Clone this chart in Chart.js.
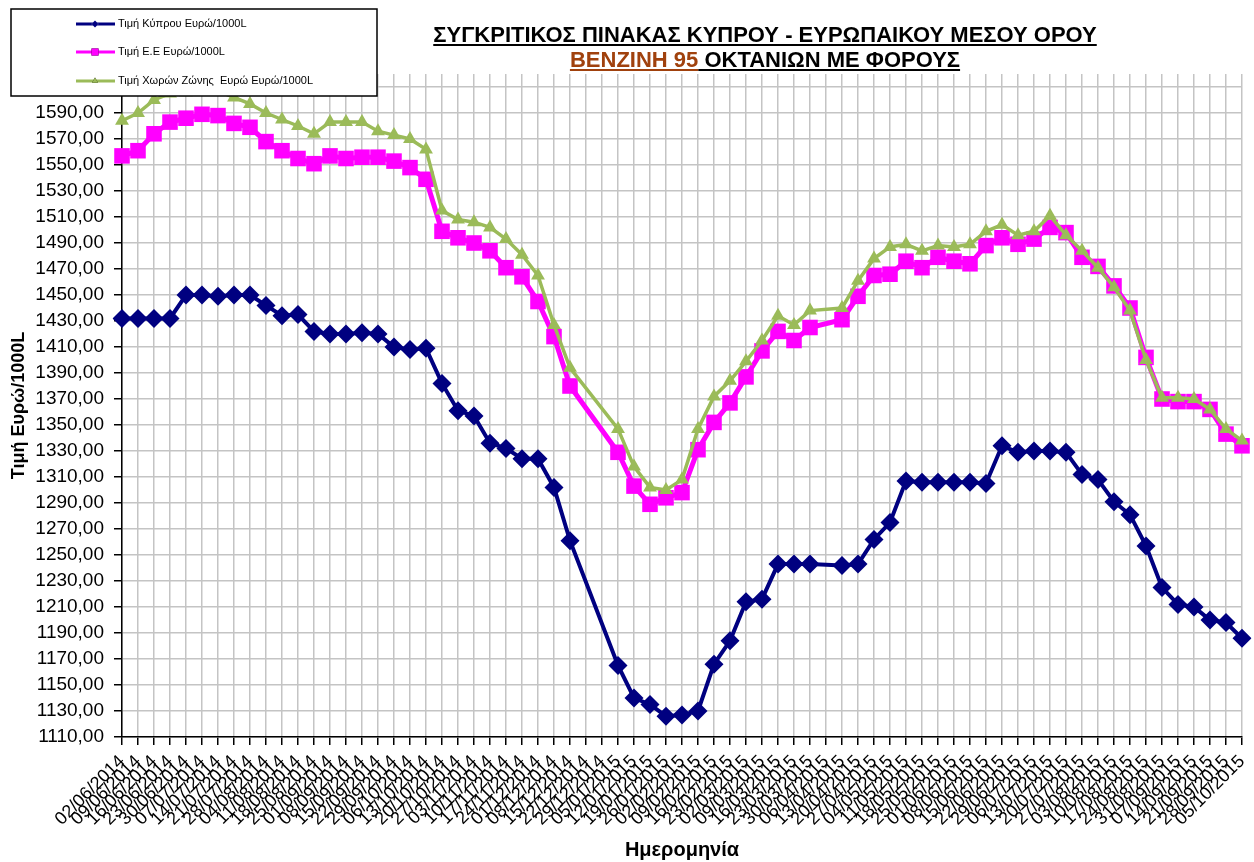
<!DOCTYPE html>
<html>
<head>
<meta charset="utf-8">
<script src="https://cdn.jsdelivr.net/npm/chart.js@4.4.1/dist/chart.umd.min.js"></script>
<style>
  body { margin: 0; background: #fff; }
  #wrap { width: 1254px; height: 862px; }
</style>
</head>
<body>
<div id="wrap"><canvas id="fuelChart" width="1254" height="862"></canvas></div>
<script>
const dates = [
  "02/06/2014", "09/06/2014", "16/06/2014", "23/06/2014", "30/06/2014", "07/07/2014", "14/07/2014", "21/07/2014",
  "28/07/2014", "04/08/2014", "11/08/2014", "18/08/2014", "25/08/2014", "01/09/2014", "08/09/2014", "15/09/2014",
  "22/09/2014", "29/09/2014", "06/10/2014", "13/10/2014", "20/10/2014", "27/10/2014", "03/11/2014", "10/11/2014",
  "17/11/2014", "24/11/2014", "01/12/2014", "08/12/2014", "15/12/2014", "22/12/2014", "29/12/2014", "05/01/2015",
  "12/01/2015", "19/01/2015", "26/01/2015", "02/02/2015", "09/02/2015", "16/02/2015", "23/02/2015", "02/03/2015",
  "09/03/2015", "16/03/2015", "23/03/2015", "30/03/2015", "06/04/2015", "13/04/2015", "20/04/2015", "27/04/2015",
  "04/05/2015", "11/05/2015", "18/05/2015", "25/05/2015", "01/06/2015", "08/06/2015", "15/06/2015", "22/06/2015",
  "29/06/2015", "06/07/2015", "13/07/2015", "20/07/2015", "27/07/2015", "03/08/2015", "10/08/2015", "17/08/2015",
  "24/08/2015", "31/08/2015", "07/09/2015", "14/09/2015", "21/09/2015", "28/09/2015", "05/10/2015"
];

// y axis tick values
const yTicks = [
  1110, 1130, 1150, 1170, 1190, 1210, 1230, 1250, 1270, 1290, 1310, 1330, 1350,
  1370, 1390, 1410, 1430, 1450, 1470, 1490, 1510, 1530, 1550, 1570, 1590, 1610
];

// Τιμή Κύπρου
const cyprus = [
  1432, 1432, 1432, 1432, 1450, 1450, 1449, 1450, 1450, 1442,
  1434, 1435, 1422, 1420, 1420, 1421, 1420, 1410, 1408, 1409,
  1382, 1361, 1357, 1336, 1332, 1324, 1324, 1302, 1261, null,
  null, 1165, 1140, 1135, 1126, 1127, 1130, 1166, 1184, 1214,
  1216, 1243, 1243, 1243, null, 1242, 1243, 1262, 1275, 1307,
  1306, 1306, 1306, 1306, 1305, 1334, 1329, 1330, 1330, 1329,
  1312, 1308, 1291, 1281, 1257, 1225, 1212, 1210, 1200, 1198,
  1186
];

// Τιμή Ε.Ε
const eu = [
  1557, 1561, 1574, 1583, 1586, 1589, 1588, 1582, 1579, 1568,
  1561, 1555, 1551, 1557, 1555, 1556, 1556, 1553, 1548, 1539,
  1499, 1494, 1490, 1484, 1471, 1464, 1445, 1418, 1380, null,
  null, 1329, 1303, 1289, 1294, 1298, 1331, 1352, 1367, 1387,
  1407, 1422, 1415, 1425, null, 1431, 1449, 1465, 1466, 1476,
  1471, 1479, 1476, 1474, 1488, 1494, 1489, 1493, 1502, 1498,
  1479, 1472, 1457, 1440, 1402, 1370, 1368, 1368, 1362, 1343,
  1334
];

// Τιμή Χωρών Ζώνης
const euroZone = [
  1584, 1590, 1600, 1605, 1606, 1608, 1607, 1602, 1597, 1590,
  1585, 1580, 1574, 1583, 1583, 1583, 1576, 1573, 1570, 1562,
  1515, 1508, 1506, 1502, 1493, 1481, 1465, 1427, 1394, null,
  null, 1347, 1318, 1302, 1300, 1308, 1347, 1372, 1384, 1399,
  1415, 1434, 1427, 1438, null, 1440, 1461, 1478, 1487, 1489,
  1484, 1488, 1487, 1489, 1499, 1504, 1496, 1499, 1511, 1496,
  1484, 1471, 1456, 1438, 1400, 1371, 1371, 1370, 1362, 1347,
  1338
];

const seriesNames = ["Τιμή Κύπρου Ευρώ/1000L", "Τιμή Ε.Ε Ευρώ/1000L", "Τιμή Χωρών Ζώνης  Ευρώ Ευρώ/1000L"];

const titleParts = [
  [["ΣΥΓΚΡΙΤΙΚΟΣ ΠΙΝΑΚΑΣ ΚΥΠΡΟΥ - ΕΥΡΩΠΑΙΚΟΥ ΜΕΣΟΥ ΟΡΟΥ", "#000000"]],
  [["ΒΕΝΖΙΝΗ 95", "#a0410d"], [" ΟΚΤΑΝΙΩΝ ΜΕ ΦΟΡΟΥΣ", "#000000"]]
];

const FONT = '"Liberation Sans", Arial, sans-serif';

// title + excel style legend box
const decorations = {
  id: "decorations",
  afterDraw(chart) {
    const ctx = chart.ctx;
    ctx.save();

    // title
    ctx.font = 'bold 22px ' + FONT;
    ctx.textBaseline = "alphabetic";
    ctx.textAlign = "left";
    const baselines = [42, 67];
    titleParts.forEach((line, li) => {
      const total = line.reduce((s, p) => s + ctx.measureText(p[0]).width, 0);
      let x = 765 - total / 2;
      line.forEach(p => {
        const w = ctx.measureText(p[0]).width;
        ctx.fillStyle = p[1];
        ctx.fillText(p[0], x, baselines[li]);
        ctx.fillRect(x, baselines[li] + 2, w, 2);
        x += w;
      });
    });

    // legend
    ctx.fillStyle = "#ffffff";
    ctx.fillRect(11, 9, 366, 87);
    ctx.strokeStyle = "#000000";
    ctx.lineWidth = 1.5;
    ctx.strokeRect(11, 9, 366, 87);
    const rows = [24, 52, 81];
    chart.data.datasets.forEach((ds, i) => {
      const y = rows[i];
      ctx.strokeStyle = ds.borderColor;
      ctx.lineWidth = 3;
      ctx.beginPath();
      ctx.moveTo(76, y);
      ctx.lineTo(115, y);
      ctx.stroke();
      Chart.helpers.drawPoint(ctx, {
        pointStyle: ds.pointStyle, radius: i === 1 ? 5 : 3.5, rotation: 0,
        borderWidth: 0
      }, 95, y);
      ctx.fillStyle = ds.pointBackgroundColor;
      ctx.fill();
      ctx.fillStyle = "#000000";
      ctx.font = "11px " + FONT;
      ctx.textBaseline = "middle";
      ctx.fillText(seriesNames[i], 118, y);
    });
    ctx.restore();
  }
};

new Chart(document.getElementById("fuelChart"), {
  type: "line",
  data: {
    labels: dates,
    datasets: [
      {
        label: seriesNames[0],
        data: cyprus,
        borderColor: "#000080",
        backgroundColor: "#000080",
        pointBackgroundColor: "#000080",
        pointBorderWidth: 0,
        borderWidth: 4,
        pointStyle: "rectRot",
        pointRadius: 9.5,
        spanGaps: true,
        order: 2
      },
      {
        label: seriesNames[1],
        data: eu,
        borderColor: "#ff00ff",
        backgroundColor: "#ff00ff",
        pointBackgroundColor: "#ff00ff",
        pointBorderWidth: 0,
        borderWidth: 5,
        pointStyle: "rect",
        pointRadius: 11,
        spanGaps: true,
        order: 1
      },
      {
        label: seriesNames[2],
        data: euroZone,
        borderColor: "#9bbb59",
        backgroundColor: "#9bbb59",
        pointBackgroundColor: "#9bbb59",
        pointBorderWidth: 0,
        borderWidth: 3.5,
        pointStyle: "triangle",
        pointRadius: 8,
        spanGaps: true,
        order: 0
      }
    ]
  },
  options: {
    responsive: false,
    animation: false,
    events: [],
    layout: { padding: { top: 74, right: 12, left: 8, bottom: 0 } },
    plugins: {
      legend: { display: false },
      tooltip: { enabled: false }
    },
    scales: {
      x: {
        offset: false,
        grid: { color: "#c4c4c4", lineWidth: 1.5, tickColor: "#000000", tickLength: 8 },
        border: { color: "#000000", width: 1.5 },
        ticks: {
          autoSkip: false,
          minRotation: 45,
          maxRotation: 45,
          color: "#000000",
          padding: 6,
          font: { family: FONT, size: 18 }
        },
        title: {
          display: true,
          text: "Ημερομηνία",
          color: "#000000",
          font: { family: FONT, size: 20, weight: "bold" },
          padding: { top: 0, bottom: 0 }
        },
        afterFit(scale) {
          scale.height = 125;
          scale.paddingRight = 0;
        }
      },
      y: {
        min: 1110,
        max: 1620,
        grid: { color: "#c4c4c4", lineWidth: 1.5, tickColor: "#000000", tickLength: 8 },
        border: { color: "#000000", width: 1.5 },
        ticks: {
          autoSkip: false,
          color: "#000000",
          padding: 10,
          font: { family: FONT, size: 19 },
          callback: v => v.toFixed(2).replace(".", ",")
        },
        afterBuildTicks(scale) {
          scale.ticks = yTicks.map(v => ({ value: v }));
        },
        title: {
          display: true,
          text: "Τιμή Ευρώ/1000L",
          color: "#000000",
          font: { family: FONT, size: 18, weight: "bold" },
          padding: { top: 0, bottom: 0 }
        },
        afterFit(scale) { scale.width = 114; }
      }
    }
  },
  plugins: [decorations]
});
</script>
</body>
</html>
